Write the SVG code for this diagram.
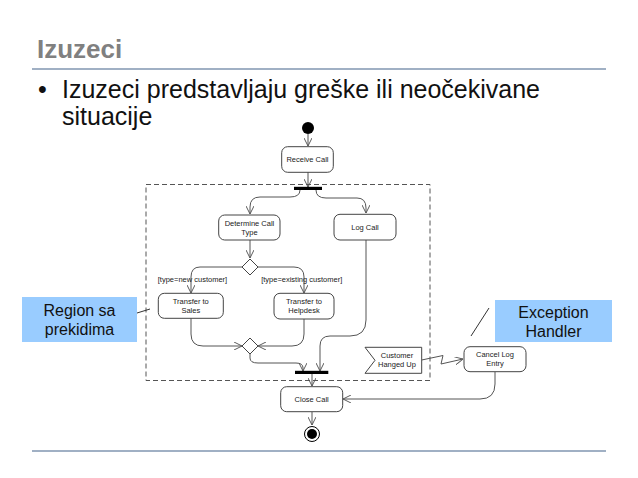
<svg xmlns="http://www.w3.org/2000/svg" width="638" height="478" viewBox="0 0 638 478">
<style>
.n{fill:#fff;stroke:#444;stroke-width:1}
.t{font-family:"Liberation Sans",Arial,sans-serif;font-size:7.5px;fill:#222;text-anchor:middle}
.c{fill:none;stroke:#555;stroke-width:1}
.b{fill:#99ccff}
.bt{font-family:"Liberation Sans",Arial,sans-serif;font-size:16px;fill:#111;text-anchor:middle}
</style>
<defs>
<marker id="a" viewBox="0 0 10 10" refX="10" refY="5" markerWidth="8" markerHeight="8" orient="auto" markerUnits="userSpaceOnUse"><path d="M0,0 L10,5 L0,10" fill="none" stroke="#555" stroke-width="1.2"/></marker>
</defs>
<rect width="638" height="478" fill="#fff"/>
<text x="37" y="58" font-family="Liberation Sans,Arial,sans-serif" font-size="26" font-weight="bold" fill="#808080">Izuzeci</text>
<line x1="32" y1="69" x2="606" y2="69" stroke="#8096b0" stroke-width="1.5"/>
<text font-family="Liberation Sans,Arial,sans-serif" font-size="25" fill="#111"><tspan x="38" y="98">•</tspan><tspan x="62" y="98">Izuzeci predstavljaju greške ili neočekivane</tspan><tspan x="62" y="125">situacije</tspan></text>
<line x1="32" y1="451" x2="606" y2="451" stroke="#8096b0" stroke-width="1.5"/>
<rect x="146" y="184.5" width="284" height="196" fill="none" stroke="#555" stroke-dasharray="5,3"/>
<g id="connectors">
<path class="c" d="M308,134 V146" marker-end="url(#a)"/>
<path class="c" d="M308,172 V187" marker-end="url(#a)"/>
<path class="c" d="M300,190 Q300,197 290,197 H260 Q250,197 250,207 V214" marker-end="url(#a)"/>
<path class="c" d="M316,190 Q316,198 326,198 H357 Q366,198 366,208 V213" marker-end="url(#a)"/>
<path class="c" d="M250,240 V258" marker-end="url(#a)"/>
<path class="c" d="M242,267 H200 Q191,267 191,277 V293" marker-end="url(#a)"/>
<path class="c" d="M258,267 H294 Q304,267 304,277 V293" marker-end="url(#a)"/>
<path class="c" d="M191,318 V334 Q191,346 203,346 H242" marker-end="url(#a)"/>
<path class="c" d="M304,319 V334 Q304,346 292,346 H258" marker-end="url(#a)"/>
<path class="c" d="M250,354 V358 Q250,363 258,363 H296 Q303,363 303,368 V371" marker-end="url(#a)"/>
<path class="c" d="M366,240 V320 Q366,336 350,336 H330 Q320,336 320,346 V371" marker-end="url(#a)"/>
<path class="c" d="M312,374 V386" marker-end="url(#a)"/>
<path class="c" d="M312,412 V425" marker-end="url(#a)"/>
<path class="c" d="M421.7,360 L443,355.5 L441,364 L463,359" marker-end="url(#a)"/>
<path class="c" d="M495,372 V384 Q495,399 480,399 H343" marker-end="url(#a)"/>
<line x1="137" y1="313" x2="150" y2="309" stroke="#333"/>
<line x1="489" y1="308" x2="471" y2="336" stroke="#333"/>
</g>
<g id="start"><circle cx="308" cy="128" r="6" fill="#000"/></g>
<g id="receive"><rect class="n" x="281.7" y="146.7" width="51.6" height="25.6" rx="6"/><text class="t" x="307.5" y="162">Receive Call</text></g>
<g id="fork"><rect x="294" y="186.8" width="28" height="3.2" fill="#000"/></g>
<g id="determine"><rect class="n" x="218.7" y="215" width="61.3" height="25" rx="6"/><text class="t" x="249.5" y="225.5">Determine Call<tspan x="249.5" dy="9">Type</tspan></text></g>
<g id="logcall"><rect class="n" x="334" y="214.3" width="62" height="25.7" rx="6"/><text class="t" x="365" y="230">Log Call</text></g>
<g id="decision"><path class="n" d="M250,259 L258,267 L250,275 L242,267 Z"/></g>
<text class="t" x="192.5" y="281.5">[type=new customer]</text>
<text class="t" x="301.7" y="281.5">[type=existing customer]</text>
<g id="sales"><rect class="n" x="158.3" y="293.3" width="65" height="25" rx="6"/><text class="t" x="190.8" y="303.5">Transfer to<tspan x="190.8" dy="9">Sales</tspan></text></g>
<g id="helpdesk"><rect class="n" x="274" y="293.3" width="60" height="25.7" rx="6"/><text class="t" x="304" y="303.5">Transfer to<tspan x="304" dy="9">Helpdesk</tspan></text></g>
<g id="merge"><path class="n" d="M250,338 L258,346 L250,354 L242,346 Z"/></g>
<g id="join"><rect x="295" y="370.8" width="33.3" height="3.2" fill="#000"/></g>
<g id="hanged"><path class="n" d="M365,347.3 H421.7 V373.3 H365 L375,360.3 Z"/><text class="t" x="397" y="357.5">Customer<tspan x="397" dy="9">Hanged Up</tspan></text></g>
<g id="cancel"><rect class="n" x="464" y="346.7" width="62" height="25" rx="6"/><text class="t" x="495" y="357">Cancel Log<tspan x="495" dy="9">Entry</tspan></text></g>
<g id="close"><rect class="n" x="280.7" y="386.7" width="62" height="25" rx="6"/><text class="t" x="311.7" y="402">Close Call</text></g>
<g id="end"><circle cx="312" cy="434" r="7.5" fill="#fff" stroke="#000"/><circle cx="312" cy="434" r="5" fill="#000"/></g>
<g id="region"><rect class="b" x="22" y="297" width="115" height="45"/><text class="bt" x="79.5" y="316">Region sa<tspan x="79.5" dy="19">prekidima</tspan></text></g>
<g id="exception"><rect class="b" x="495" y="300" width="117" height="42"/><text class="bt" x="553.5" y="318">Exception<tspan x="553.5" dy="19">Handler</tspan></text></g>
</svg>
